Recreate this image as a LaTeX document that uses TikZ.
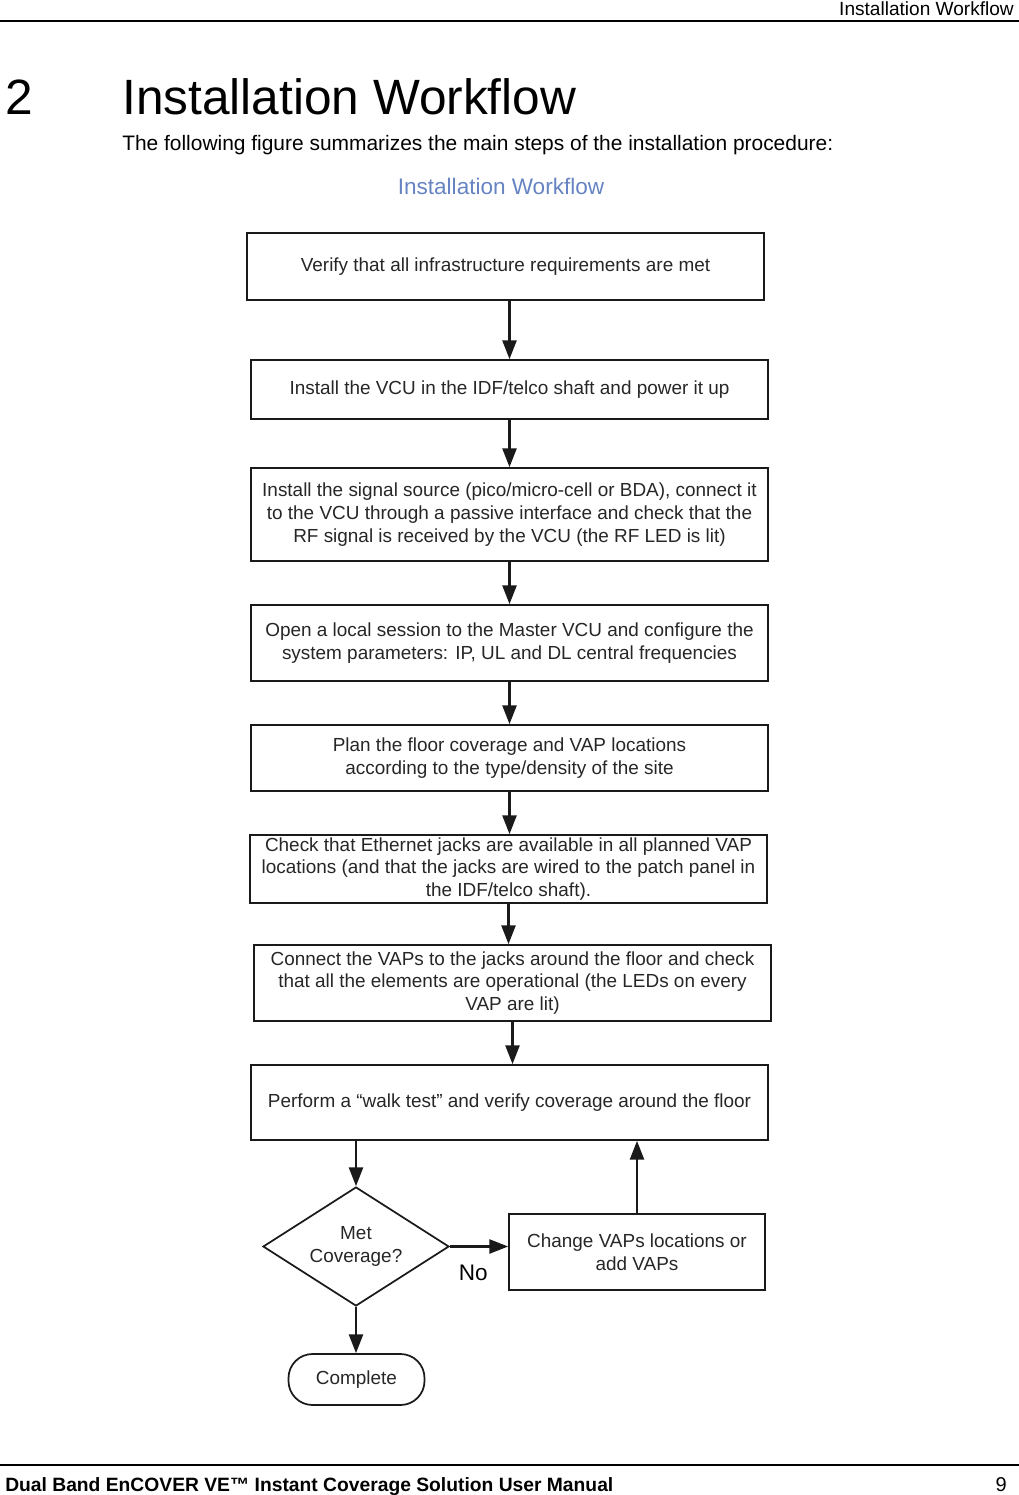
\documentclass[tikz,border=0pt]{standalone}
\usepackage{fontspec}
\setmainfont{Liberation Sans}
\usetikzlibrary{arrows.meta,shapes.geometric}
\definecolor{boxtext}{HTML}{262626}
\definecolor{linegray}{HTML}{1A1A1A}
\definecolor{charttitle}{HTML}{6683C2}

\begin{document}
\begin{tikzpicture}[
  x=0.75pt, y=-0.75pt,
  every node/.style = {align=center, text=boxtext, font=\fontsize{14.2}{17}\selectfont},
  stepbox/.style = {draw=linegray, line width=1.3pt, minimum width=387.75pt, inner sep=0pt},
  decision/.style = {draw=linegray, line width=1.3pt, diamond, aspect=1.56, inner sep=0pt,
                     minimum width=139.5pt, minimum height=89.25pt},
  endcap/.style = {draw=linegray, line width=1.3pt, rounded corners=18pt,
                   minimum width=102pt, minimum height=38.25pt},
  flow/.style = {draw=linegray, line width=1.6pt, -{Triangle[length=14pt, width=10.5pt]}}]
  \useasboundingbox (0,0) rectangle (1019,1495);

  % page header and footer
  \node[anchor=base east, text=black, font=\fontsize{14.3}{16}\selectfont, inner sep=0pt] (hdr) at (1014,15.5) {Installation Workflow};
  \draw[line width=0.9pt] (0,21) -- (1019,21);
  \node[anchor=base west, text=black, font=\fontsize{37.2}{40}\selectfont, inner sep=0pt] (secnum) at (5,114) {2};
  \node[anchor=base west, text=black, font=\fontsize{37.2}{40}\selectfont, inner sep=0pt] (sectitle) at (122,114) {Installation Workflow};
  \node[anchor=base west, text=black, font=\fontsize{15.7}{18}\selectfont, inner sep=0pt] (intro) at (122,150) {The following figure summarizes the main steps of the installation procedure:};
  \draw[line width=0.9pt] (0,1465) -- (1019,1465);
  \node[anchor=base west, text=black, font=\bfseries\fontsize{14.45}{16}\selectfont, inner sep=0pt] (ftr) at (5,1491) {Dual Band EnCOVER VE™ Instant Coverage Solution User Manual};
  \node[anchor=base east, text=black, font=\fontsize{15}{16}\selectfont, inner sep=0pt] (pgnum) at (1007,1491) {9};

  % flowchart
  \node[text=charttitle, font=\fontsize{16.9}{20}\selectfont] (title) at (501,186) {Installation Workflow};
  \node[stepbox, minimum height=50.25pt] (verify) at (505.5,266.5) {Verify that all infrastructure requirements are met};
  \node[stepbox, minimum height=44.25pt] (vcu) at (509.5,389.5) {Install the VCU in the IDF/telco shaft and power it up};
  \node[stepbox, minimum height=69.75pt] (source) at (509.5,514.5) {Install the signal source (pico/micro-cell or BDA), connect it\\to the VCU through a passive interface and check that the\\RF signal is received by the VCU (the RF LED is lit)};
  \node[stepbox, minimum height=57pt] (session) at (509.5,643) {Open a local session to the Master VCU and configure the\\system parameters: IP, UL and DL central frequencies};
  \node[stepbox, minimum height=49.5pt] (plan) at (509.5,758) {Plan the floor coverage and VAP locations\\according to the type/density of the site};
  \node[stepbox, minimum height=51pt] (jacks) at (508.5,869) {Check that Ethernet jacks are available in all planned VAP\\locations (and that the jacks are wired to the patch panel in\\the IDF/telco shaft).};
  \node[stepbox, minimum height=57pt] (connect) at (512.5,983) {Connect the VAPs to the jacks around the floor and check\\that all the elements are operational (the LEDs on every\\VAP are lit)};
  \node[stepbox, minimum height=56.25pt] (walk) at (509.5,1102.5) {Perform a “walk test” and verify coverage around the floor};
  \node[decision] (met) at (356,1246.5) {Met\\Coverage?};
  \node[stepbox, minimum width=192pt, minimum height=57pt] (change) at (637,1252) {Change VAPs locations or\\add VAPs};
  \node[endcap] (complete) at (356.5,1379.5) {Complete};

  \draw[flow] (verify.south -| vcu.north) -- (vcu.north);
  \draw[flow] (vcu.south) -- (source.north);
  \draw[flow] (source.south) -- (session.north);
  \draw[flow] (session.south) -- (plan.north);
  \draw[flow] (plan.south) -- (jacks.north -| plan.south);
  \draw[flow] (jacks.south) -- (connect.north -| jacks.south);
  \draw[flow] (connect.south) -- (walk.north -| connect.south);
  \draw[flow] (walk.south -| met.north) -- (met.north);
  \draw[flow] (met.east) -- (met.east -| change.west) node[pos=0.4, below=10pt, text=black, font=\fontsize{16.9}{18}\selectfont] (no) {No};
  \draw[flow] (change.north) -- (change.north |- walk.south);
  \draw[flow] (met.south) -- (complete.north -| met.south);
\end{tikzpicture}
\end{document}
